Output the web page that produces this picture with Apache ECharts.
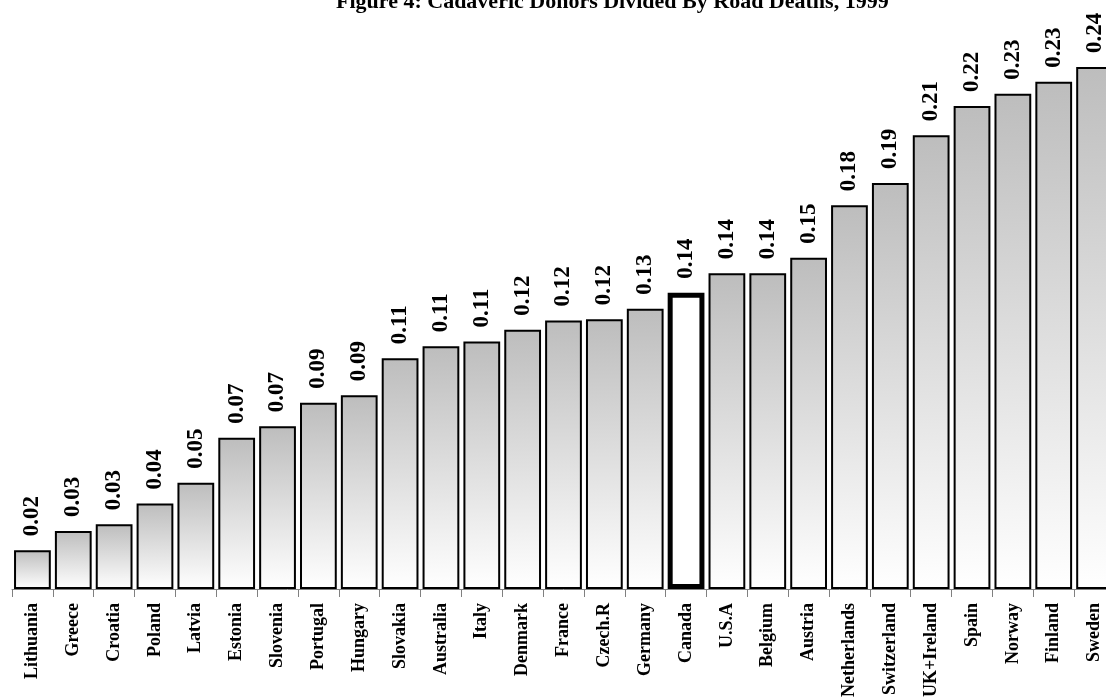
<!DOCTYPE html>
<html>
<head>
<meta charset="utf-8">
<script src="https://cdn.jsdelivr.net/npm/echarts@6/dist/echarts.min.js"></script>
<style>
html,body{margin:0;padding:0;background:#fff;overflow:hidden;width:1106px;height:700px;}
#chart{width:1124px;height:700px;}
</style>
</head>
<body>
<div id="chart"></div>
<script>
const titleText = "Figure 4: Cadaveric Donors Divided By Road Deaths, 1999";
const countries = ["Lithuania","Greece","Croatia","Poland","Latvia","Estonia","Slovenia","Portugal","Hungary","Slovakia","Australia","Italy","Denmark","France","Czech.R","Germany","Canada","U.S.A","Belgium","Austria","Netherlands","Switzerland","UK+Ireland","Spain","Norway","Finland","Sweden"];
const donorsPerRoadDeath = [0.0178,0.0266,0.0296,0.0392,0.0486,0.0692,0.0745,0.0853,0.0887,0.1057,0.1112,0.1133,0.1187,0.1229,0.1235,0.1283,0.1357,0.1446,0.1446,0.1517,0.1757,0.1859,0.2078,0.2211,0.2268,0.2323,0.2390];
const highlight = "Canada";

const serif = "'Liberation Serif','Times New Roman',serif";
const chart = echarts.init(document.getElementById('chart'));

const grayGrad = new echarts.graphic.LinearGradient(0, 0, 0, 1, [
  {offset: 0, color: '#bdbdbd'},
  {offset: 1, color: '#ffffff'}
]);

const data = donorsPerRoadDeath.map((v, i) => {
  if (countries[i] === highlight) {
    return {value: v, itemStyle: {color: '#ffffff', borderColor: '#000', borderWidth: 5}};
  }
  return {value: v};
});

chart.setOption({
  animation: false,
  backgroundColor: '#ffffff',
  title: {
    text: titleText,
    left: 336,
    top: -9,
    padding: 0,
    textStyle: {fontFamily: serif, fontWeight: 'bold', fontSize: 22, color: '#000'}
  },
  grid: {left: 12, top: 43, width: 1103, height: 547, containLabel: false},
  xAxis: {
    type: 'category',
    data: countries,
    axisLine: {lineStyle: {color: '#808080', width: 1}},
    axisTick: {show: true, length: 8, lineStyle: {color: '#808080'}},
    axisLabel: {
      interval: 0,
      rotate: 90,
      margin: 14,
      fontFamily: serif,
      fontWeight: 'bold',
      fontSize: 18,
      color: '#000'
    }
  },
  yAxis: {
    type: 'value',
    min: 0,
    max: 0.25,
    show: false,
    splitLine: {show: false}
  },
  series: [{
    type: 'bar',
    data: data,
    barWidth: '90%',
    itemStyle: {color: grayGrad, borderColor: '#000', borderWidth: 2},
    label: {
      show: true,
      position: 'top',
      distance: 14,
      rotate: 90,
      align: 'left',
      verticalAlign: 'middle',
      fontFamily: serif,
      fontWeight: 'bold',
      fontSize: 23,
      color: '#000',
      formatter: p => p.value.toFixed(2)
    }
  }]
});
</script>
</body>
</html>
